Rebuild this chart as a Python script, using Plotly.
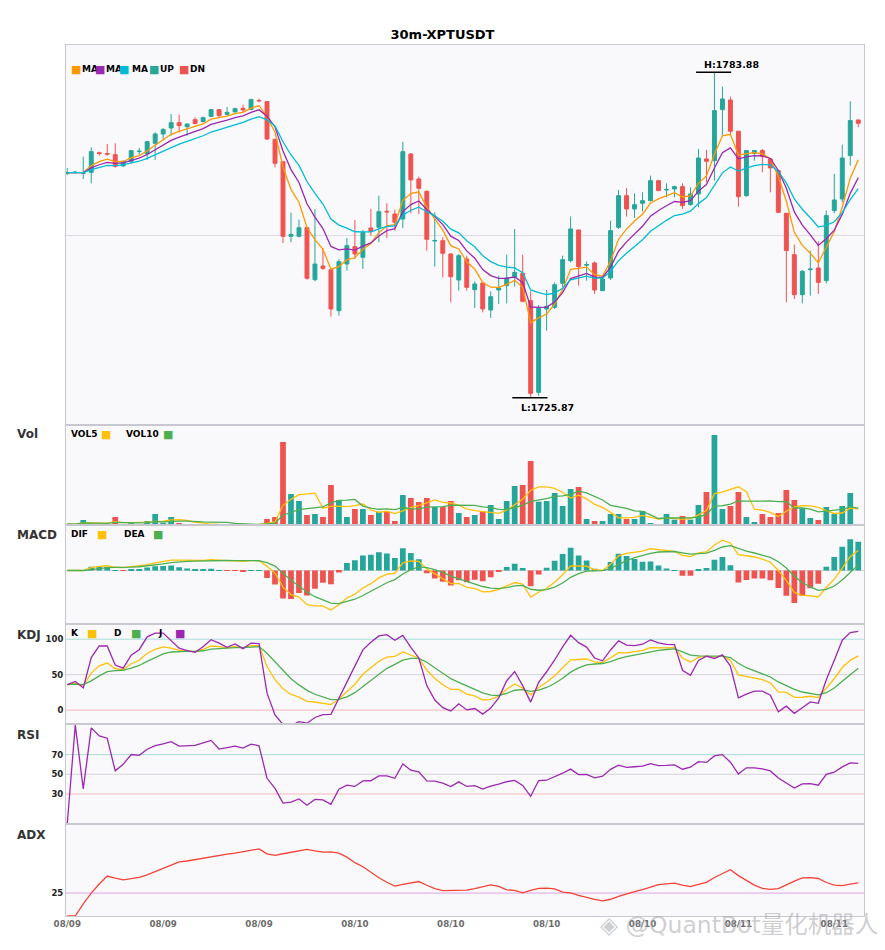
import numpy as np
import pandas as pd
import plotly.graph_objects as go
from plotly.subplots import make_subplots

symbol = "30m-XPTUSDT"

# candles (30 min bars)
open_ = [1765.90, 1766.00, 1765.85, 1766.05, 1769.55, 1769.40, 1769.20, 1767.20, 1768.01, 1769.75,
         1769.32, 1771.22, 1772.89, 1773.96, 1774.91, 1774.19, 1775.44, 1775.09, 1776.04, 1777.23,
         1776.39, 1776.81, 1777.46, 1777.23, 1778.85, 1778.65, 1771.94, 1767.95, 1754.64, 1754.64,
         1756.18, 1746.91, 1749.35, 1748.69, 1741.39, 1749.71, 1752.80, 1750.90, 1756.13, 1756.25,
         1759.10, 1758.62, 1757.73, 1769.32, 1764.86, 1762.67, 1753.80, 1753.87, 1751.49, 1746.85,
         1750.60, 1745.13, 1746.32, 1741.50, 1745.07, 1745.84, 1747.33, 1748.04, 1743.17, 1726.82,
         1741.68, 1741.98, 1746.26, 1750.30, 1755.77, 1749.50, 1749.88, 1744.95, 1747.21, 1756.25,
         1761.89, 1759.52, 1760.53, 1761.00, 1764.57, 1762.90, 1763.08, 1763.50, 1760.29, 1762.19,
         1768.43, 1768.13, 1777.23, 1778.95, 1773.37, 1761.89, 1769.44, 1769.92, 1768.43, 1766.35,
         1758.74, 1751.37, 1744.24, 1748.70, 1749.00, 1746.74, 1759.22, 1761.30, 1769.03, 1775.39]
high = [1766.80, 1766.30, 1768.85, 1770.51, 1769.74, 1771.10, 1771.22, 1768.13, 1769.91, 1770.39,
        1771.52, 1773.18, 1773.96, 1776.45, 1776.33, 1774.67, 1775.86, 1775.98, 1777.23, 1777.23,
        1777.70, 1777.58, 1778.12, 1779.19, 1779.19, 1778.77, 1771.94, 1767.95, 1758.86, 1757.61,
        1756.18, 1759.51, 1752.56, 1748.69, 1750.60, 1754.34, 1757.55, 1755.77, 1759.51, 1761.89,
        1760.52, 1759.40, 1771.50, 1769.50, 1765.28, 1762.78, 1758.92, 1754.46, 1751.60, 1751.49,
        1751.19, 1746.62, 1746.32, 1744.83, 1747.63, 1751.37, 1755.95, 1751.37, 1744.83, 1742.40,
        1745.07, 1746.44, 1751.19, 1758.15, 1755.80, 1750.18, 1750.18, 1747.63, 1757.43, 1762.90,
        1763.20, 1762.31, 1762.49, 1765.46, 1764.69, 1764.09, 1763.68, 1764.09, 1763.38, 1770.22,
        1770.04, 1783.88, 1781.33, 1779.55, 1773.40, 1770.04, 1770.04, 1770.22, 1768.50, 1766.47,
        1758.80, 1753.15, 1748.64, 1752.09, 1753.75, 1759.22, 1765.76, 1770.99, 1778.72, 1775.40]
low = [1765.55, 1765.90, 1764.86, 1764.09, 1769.02, 1769.02, 1766.90, 1767.00, 1767.66, 1769.20,
       1768.25, 1768.25, 1771.70, 1772.59, 1773.18, 1772.59, 1774.67, 1774.97, 1775.86, 1775.74,
       1776.16, 1776.75, 1776.75, 1777.23, 1778.53, 1771.82, 1766.94, 1753.45, 1753.57, 1754.46,
       1746.91, 1746.61, 1748.63, 1740.31, 1740.49, 1748.52, 1750.60, 1748.82, 1754.76, 1753.57,
       1754.34, 1755.65, 1756.10, 1758.74, 1758.62, 1752.08, 1749.23, 1747.33, 1742.87, 1744.95,
       1744.95, 1741.86, 1741.09, 1740.08, 1742.57, 1742.69, 1745.67, 1742.87, 1725.87, 1726.23,
       1737.82, 1741.68, 1745.55, 1750.00, 1745.84, 1746.74, 1744.36, 1744.90, 1746.85, 1755.95,
       1758.15, 1757.91, 1759.10, 1760.88, 1762.70, 1761.60, 1761.60, 1759.52, 1760.10, 1759.81,
       1764.27, 1764.57, 1772.59, 1772.59, 1759.93, 1761.70, 1768.13, 1766.05, 1762.49, 1758.80,
       1742.87, 1743.47, 1742.69, 1744.06, 1744.36, 1746.26, 1758.74, 1760.70, 1767.24, 1774.08]
close = [1766.00, 1766.07, 1765.95, 1769.74, 1769.40, 1769.30, 1767.10, 1768.01, 1769.91, 1769.82,
         1771.52, 1772.89, 1773.66, 1774.91, 1774.37, 1774.67, 1774.73, 1775.80, 1777.23, 1776.16,
         1776.75, 1777.40, 1777.17, 1779.01, 1778.80, 1771.99, 1767.66, 1754.64, 1754.99, 1756.18,
         1747.15, 1749.70, 1748.93, 1741.68, 1750.12, 1752.98, 1751.49, 1755.35, 1755.47, 1759.04,
         1759.00, 1757.14, 1769.74, 1764.69, 1763.20, 1754.11, 1753.90, 1751.61, 1747.45, 1751.19,
         1745.55, 1746.14, 1741.68, 1743.88, 1745.43, 1747.21, 1748.22, 1743.05, 1726.64, 1741.80,
         1742.16, 1746.02, 1750.48, 1755.95, 1749.23, 1749.60, 1745.07, 1747.03, 1755.65, 1761.89,
         1759.52, 1760.29, 1761.00, 1764.57, 1762.79, 1763.00, 1763.50, 1760.11, 1762.19, 1768.61,
         1768.02, 1777.05, 1779.13, 1773.37, 1761.71, 1769.92, 1769.92, 1768.85, 1766.83, 1758.92,
         1752.09, 1744.24, 1748.40, 1748.80, 1746.44, 1758.33, 1761.12, 1768.61, 1775.27, 1774.79]
volume = [3, 2, 15, 5, 2, 3, 24, 2, 4, 2,
          12, 33, 7, 24, 4, 2, 2, 1, 2, 1,
          2, 1, 1, 2, 1, 18, 24, 249, 93, 72,
          30, 33, 24, 120, 75, 24, 48, 48, 30, 40,
          40, 12, 90, 81, 69, 81, 54, 54, 72, 36,
          24, 30, 42, 60, 18, 72, 117, 120, 192, 70,
          72, 96, 57, 108, 114, 18, 12, 12, 33, 33,
          18, 18, 42, 6, 3, 33, 16, 27, 16, 60,
          99, 270, 48, 57, 99, 24, 9, 33, 24, 36,
          105, 75, 50, 21, 15, 54, 33, 57, 96, 1]
tick_labels = ["08/09", "08/09", "08/09", "08/10", "08/10", "08/10", "08/10", "08/11", "08/11"]

UP = "#26A69A"
DN = "#EF5350"

df = pd.DataFrame({"open": open_, "high": high, "low": low, "close": close, "vol": volume})
idx = np.arange(len(df))
c = df["close"]

# indicators
ma_a = c.ewm(span=5, adjust=False).mean()
ma_b = c.ewm(span=8, adjust=False).mean()
ma_c = c.ewm(span=13, adjust=False).mean()

vol5 = df["vol"].rolling(5, min_periods=1).mean()
vol10 = df["vol"].rolling(10, min_periods=1).mean()

# fast macd settings fit the reference best
dif = c.ewm(span=5, adjust=False).mean() - c.ewm(span=17, adjust=False).mean()
dea = dif.ewm(span=5, adjust=False).mean()
hist = 2 * (dif - dea)

lo9 = df["low"].rolling(9, min_periods=1).min()
hi9 = df["high"].rolling(9, min_periods=1).max()
rsv = ((c - lo9) / (hi9 - lo9) * 100).fillna(50)
k = rsv.ewm(com=2, adjust=False).mean()
d = k.ewm(com=2, adjust=False).mean()
j = 3 * k - 2 * d

delta = c.diff()
gain = delta.clip(lower=0).ewm(alpha=1 / 14, adjust=True).mean()
loss = (-delta.clip(upper=0)).ewm(alpha=1 / 14, adjust=True).mean()
rsi = (100 * gain / (gain + loss)).fillna(0)

up_move = df["high"].diff()
down_move = -df["low"].diff()
pdm = np.where((up_move > down_move) & (up_move > 0), up_move, 0.0)
mdm = np.where((down_move > up_move) & (down_move > 0), down_move, 0.0)
pdm_s = pd.Series(pdm).ewm(span=14, adjust=False).mean()
mdm_s = pd.Series(mdm).ewm(span=14, adjust=False).mean()
dx = (100 * (pdm_s - mdm_s).abs() / (pdm_s + mdm_s)).fillna(0)
adx = dx.ewm(span=14, adjust=False).mean()

bar_cols = np.where(df["close"] >= df["open"], UP, DN)

fig = make_subplots(rows=6, cols=1, shared_xaxes=True, vertical_spacing=0,
                    row_heights=[380, 100, 99.3, 100, 100, 91.7])

fig.add_trace(go.Candlestick(x=idx, open=df["open"], high=df["high"], low=df["low"], close=df["close"],
                             increasing=dict(line=dict(color=UP, width=1), fillcolor=UP),
                             decreasing=dict(line=dict(color=DN, width=1), fillcolor=DN),
                             hoverinfo="skip"), row=1, col=1)
for s, col in [(ma_a, "#FF9800"), (ma_b, "#9C27B0"), (ma_c, "#00BCD4")]:
    fig.add_trace(go.Scatter(x=idx, y=s, mode="lines", line=dict(color=col, width=1.3)), row=1, col=1)

# high / low markers
hi_i = int(np.argmax(high))
lo_i = int(np.argmin(low))
for i, v in [(hi_i, high[hi_i]), (lo_i, low[lo_i])]:
    fig.add_trace(go.Scatter(x=[i - 2.3, i + 2.1], y=[v, v], mode="lines",
                             line=dict(color="black", width=1.5)), row=1, col=1)
fig.add_annotation(x=hi_i, y=high[hi_i], xref="x", yref="y", text=f"H:{high[hi_i]:.2f}",
                   showarrow=False, xanchor="left", yanchor="bottom", xshift=-12, yshift=0,
                   font=dict(size=9.5, color="black", weight="bold"))
fig.add_annotation(x=lo_i, y=low[lo_i], xref="x", yref="y", text=f"L:{low[lo_i]:.2f}",
                   showarrow=False, xanchor="left", yanchor="top", xshift=-12, yshift=-2,
                   font=dict(size=9.5, color="black", weight="bold"))

fig.add_trace(go.Bar(x=idx, y=df["vol"], marker=dict(color=bar_cols, line=dict(width=0)), width=0.72),
              row=2, col=1)
fig.add_trace(go.Scatter(x=idx, y=vol5, mode="lines", line=dict(color="#FFC107", width=1.3)), row=2, col=1)
fig.add_trace(go.Scatter(x=idx, y=vol10, mode="lines", line=dict(color="#4CAF50", width=1.3)), row=2, col=1)

fig.add_trace(go.Bar(x=idx, y=hist, marker=dict(color=np.where(hist >= 0, UP, DN), line=dict(width=0)),
                     width=0.72), row=3, col=1)
fig.add_trace(go.Scatter(x=idx, y=dif, mode="lines", line=dict(color="#FFC107", width=1.3)), row=3, col=1)
fig.add_trace(go.Scatter(x=idx, y=dea, mode="lines", line=dict(color="#4CAF50", width=1.3)), row=3, col=1)

fig.add_trace(go.Scatter(x=idx, y=k, mode="lines", line=dict(color="#FFC107", width=1.3)), row=4, col=1)
fig.add_trace(go.Scatter(x=idx, y=d, mode="lines", line=dict(color="#4CAF50", width=1.3)), row=4, col=1)
fig.add_trace(go.Scatter(x=idx, y=j, mode="lines", line=dict(color="#9C27B0", width=1.3)), row=4, col=1)

fig.add_trace(go.Scatter(x=idx, y=rsi, mode="lines", line=dict(color="#9C27B0", width=1.3)), row=5, col=1)

fig.add_trace(go.Scatter(x=idx, y=adx, mode="lines", line=dict(color="#F44336", width=1.3)), row=6, col=1)

# reference lines
TEAL_L, GREY_L, PINK_L = "#A8DDD7", "#D3D3DA", "#F6B8B8"
for r, v, col in [(3, 0, GREY_L), (4, 100, TEAL_L), (4, 50, GREY_L), (4, 0, PINK_L),
                  (5, 70, TEAL_L), (5, 50, GREY_L), (5, 30, PINK_L), (6, 25, "#DDA6E6")]:
    fig.add_hline(y=v, line=dict(color=col, width=1), layer="below", row=r, col=1)

lo_p, hi_p = min(low), max(high)
pad = (hi_p - lo_p) * 0.084
mid = (hi_p + lo_p) / 2

m_lo = min(dif.min(), dea.min(), hist.min())
m_hi = max(dif.max(), dea.max(), hist.max())
m_pad = (m_hi - m_lo) * 0.2

axis_line = "#C8C8D0"
fig.update_xaxes(range=[-0.16, 99.72], showline=True, mirror=True, linecolor=axis_line, linewidth=1,
                 showgrid=False, zeroline=False, ticks="", rangeslider_visible=False, showticklabels=False)
fig.update_xaxes(showticklabels=True, tickvals=idx[::12], ticktext=tick_labels,
                 tickfont=dict(size=8.7, color="#6b6b6b", weight="bold"), row=6, col=1)
fig.update_yaxes(showline=True, mirror=True, linecolor=axis_line, linewidth=1, showgrid=False,
                 zeroline=False, ticks="", showticklabels=False)
fig.update_yaxes(range=[lo_p - pad, hi_p + pad], tickvals=[mid], showgrid=True, gridcolor="#DCDCE2", row=1, col=1)
fig.update_yaxes(range=[0, max(volume) / 0.9], row=2, col=1)
fig.update_yaxes(range=[m_lo - m_pad, m_hi + m_pad], row=3, col=1)
tf = dict(size=8.5, color="#222", weight="bold")
fig.update_yaxes(range=[-20, 121], tickvals=[0, 50, 100], showticklabels=True, tickfont=tf, row=4, col=1)
fig.update_yaxes(range=[-0.8, 100.8], tickvals=[30, 50, 70], showticklabels=True, tickfont=tf, row=5, col=1)
fig.update_yaxes(range=[0, 100], tickvals=[25], showticklabels=True, tickfont=tf, row=6, col=1)

W0, WW, B0, HH = 66, 798, 916, 871


def note(xp, yp, text, color="black", size=9.5, bold=True):
    fig.add_annotation(x=(xp - W0) / WW, y=(B0 - yp) / HH, xref="paper", yref="paper", text=text,
                       showarrow=False, xanchor="left", yanchor="middle", borderpad=0,
                       font=dict(size=size, color=color, weight="bold" if bold else "normal"))


# panel names
for name, yp in [("Vol", 434), ("MACD", 535), ("KDJ", 635), ("RSI", 735), ("ADX", 835)]:
    note(16, yp, name, color="#333", size=12)

# legends
legends = [
    (69, [(81, "MA", None), (70, None, "#FF9800"), (105, "MA", None), (94, None, "#9C27B0"),
          (131, "MA", None), (118, None, "#00BCD4"), (159, "UP", None), (148, None, UP),
          (189, "DN", None), (178, None, DN)]),
    (434, [(70, "VOL5", None), (100, None, "#FFC107"), (125, "VOL10", None), (162, None, "#4CAF50")]),
    (534, [(70, "DIF", None), (96, None, "#FFC107"), (123, "DEA", None), (152, None, "#4CAF50")]),
    (633, [(70, "K", None), (86, None, "#FFC107"), (113, "D", None), (130, None, "#4CAF50"),
           (157, "J", None), (174, None, "#9C27B0")]),
]
for yp, items in legends:
    for xp, txt, col in items:
        if txt:
            note(xp, yp, txt, size=9)
        else:
            note(xp, yp, "■", color=col, size=11, bold=False)

# watermark of the source image
fig.add_annotation(x=1.02, y=(B0 - 925) / HH, xref="paper", yref="paper", xanchor="right", yanchor="middle",
                   showarrow=False, text="◈ @QuantBot量化机器人",
                   font=dict(size=23.5, color="rgba(165,165,170,0.55)",
                             family="DejaVu Sans, Noto Sans CJK SC"))

fig.update_layout(
    width=885, height=950,
    margin=dict(l=66, r=21, t=45, b=34),
    title=dict(text=f"<b>{symbol}</b>", x=0.5, xanchor="center", y=1 - 34 / 950, yanchor="middle",
               font=dict(size=13, color="black")),
    font=dict(family="DejaVu Sans, Noto Sans CJK SC", color="#222"),
    showlegend=False,
    plot_bgcolor="#F9F9FC",
    paper_bgcolor="white",
    bargap=0.25,
    hovermode=False,
)

fig.write_html("out.html", config={"displayModeBar": False},
               post_script="document.body.style.margin='0';document.body.style.overflow='hidden';")
